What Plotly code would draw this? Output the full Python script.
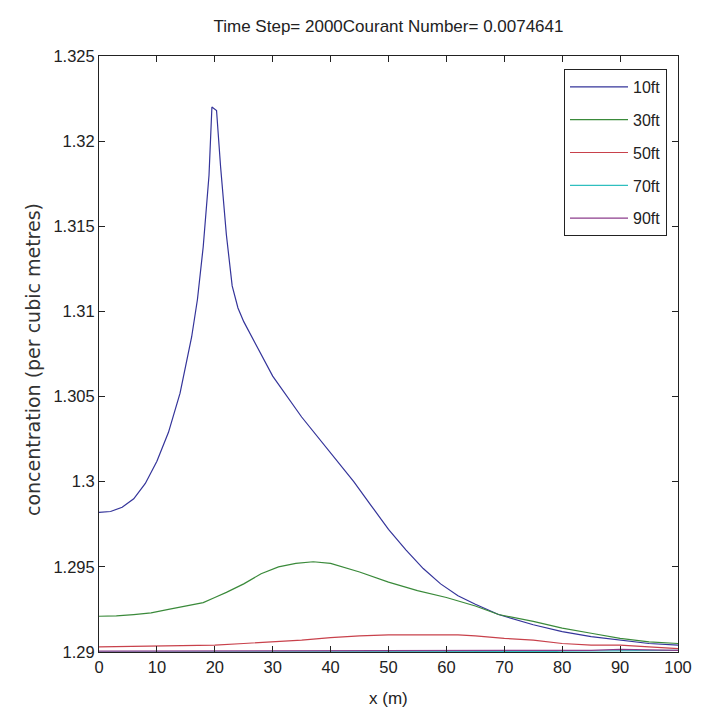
import plotly.graph_objects as go

# ---- data ----
x_10ft = [0, 2, 4, 6, 8, 10, 12, 14, 16, 17, 18, 19, 19.5, 20.3, 21, 22, 23, 24, 25, 27, 30, 35, 40, 44, 47, 50, 53, 56, 59, 62, 65, 69, 75, 80, 85, 90, 95, 100]
y_10ft = [1.2982, 1.29825, 1.2985, 1.2990, 1.2999, 1.3012, 1.3029, 1.3052, 1.3085, 1.3107, 1.3138, 1.3180, 1.3220, 1.3218, 1.3185, 1.3145, 1.3115, 1.3102, 1.3094, 1.3081, 1.3062, 1.3038, 1.3017, 1.3000, 1.2986, 1.2972, 1.2960, 1.2949, 1.2940, 1.2933, 1.2928, 1.2922, 1.2916, 1.2912, 1.2909, 1.2907, 1.2905, 1.2904]

x_30ft = [0, 3, 6, 9, 12, 15, 18, 20, 22, 25, 28, 31, 34, 37, 40, 45, 50, 55, 60, 65, 69, 75, 80, 85, 90, 95, 100]
y_30ft = [1.2921, 1.29212, 1.2922, 1.2923, 1.2925, 1.2927, 1.2929, 1.2932, 1.2935, 1.2940, 1.2946, 1.2950, 1.2952, 1.2953, 1.2952, 1.2947, 1.2941, 1.2936, 1.2932, 1.2927, 1.2922, 1.2918, 1.2914, 1.2911, 1.2908, 1.2906, 1.2905]

x_50ft = [0, 10, 15, 20, 25, 30, 35, 40, 45, 50, 55, 62, 65, 70, 75, 80, 85, 90, 95, 100]
y_50ft = [1.2903, 1.29035, 1.2904, 1.2904, 1.2905, 1.2906, 1.2907, 1.29085, 1.29095, 1.2910, 1.2910, 1.2910, 1.29095, 1.2908, 1.2907, 1.2905, 1.2904, 1.2904, 1.2903, 1.2902]

x_70ft = [0, 50, 52, 78, 80, 90, 100]
y_70ft = [1.29000, 1.29000, 1.29002, 1.29002, 1.29005, 1.29008, 1.29010]

x_90ft = [0, 50, 80, 85, 90, 95, 100]
y_90ft = [1.29005, 1.29006, 1.29008, 1.29010, 1.29015, 1.29014, 1.29010]

series_names = ["10ft", "30ft", "50ft", "70ft", "90ft"]
series_colors = ["#34349a", "#3a8a3a", "#c8414b", "#2fbfbf", "#8c3c8c"]

y_ticks = [1.29, 1.295, 1.3, 1.305, 1.31, 1.315, 1.32, 1.325]
y_tick_text = ["1.29", "1.295", "1.3", "1.305", "1.31", "1.315", "1.32", "1.325"]
x_ticks = [0, 10, 20, 30, 40, 50, 60, 70, 80, 90, 100]

title_text = "Time Step= 2000Courant Number= 0.0074641"
x_label = "x (m)"
y_label = "concentration (per cubic metres)"

FONT = "Liberation Sans, Arial, Helvetica, sans-serif"
YFONT = "DejaVu Sans, Liberation Sans, sans-serif"
TXT = "#222222"

fig = go.Figure()
all_x = [x_10ft, x_30ft, x_50ft, x_70ft, x_90ft]
all_y = [y_10ft, y_30ft, y_50ft, y_70ft, y_90ft]
for name, color, xs, ys in zip(series_names, series_colors, all_x, all_y):
    fig.add_trace(go.Scatter(x=xs, y=ys, mode="lines", name=name, legendgroup=name,
                             line=dict(color=color, width=1.2)))

L, R, T, B = 91, 33, 48, 65
W, H = 703, 709
pw = W - L - R
ph = H - T - B

fig.update_layout(
    width=W, height=H,
    margin=dict(l=L, r=R, t=T, b=B),
    paper_bgcolor="white", plot_bgcolor="white",
    font=dict(family=FONT, size=16.5, color=TXT),
    title=dict(text=title_text, x=(L + pw / 2) / W, xanchor="center",
               y=1 - 18 / H, yanchor="middle", yref="container",
               font=dict(family=FONT, size=17, color=TXT)),
    showlegend=True,
    legend=dict(x=(556 - L) / pw, y=(H - B - 61) / ph, xanchor="left", yanchor="top",
                bordercolor=TXT, borderwidth=1, bgcolor="white",
                font=dict(family=FONT, size=16, color=TXT),
                traceorder="grouped", tracegroupgap=9, itemwidth=58),
    xaxis=dict(range=[0, 100], tickvals=x_ticks, ticks="inside", ticklen=6,
               showline=True, linecolor=TXT, linewidth=1, mirror="ticks",
               showgrid=False, zeroline=False, tickcolor=TXT,
               tickfont=dict(family=FONT, size=16.5)),
    yaxis=dict(range=[1.29, 1.325], tickvals=y_ticks, ticktext=y_tick_text,
               ticks="inside", ticklen=6,
               showline=True, linecolor=TXT, linewidth=1, mirror="ticks",
               showgrid=False, zeroline=False, tickcolor=TXT,
               tickfont=dict(family=FONT, size=16.5)),
    annotations=[
        dict(text=x_label, xref="paper", yref="paper", x=0.5, y=(H - B - 690) / ph,
             xanchor="center", yanchor="middle", showarrow=False,
             font=dict(family=FONT, size=17, color=TXT)),
        dict(text=y_label, xref="paper", yref="paper", x=(25 - L) / pw, y=(H - B - 352) / ph,
             xanchor="center", yanchor="middle", showarrow=False, textangle=-90,
             font=dict(family=YFONT, size=19, color="#333333")),
    ],
)

fig.write_html("out.html")
